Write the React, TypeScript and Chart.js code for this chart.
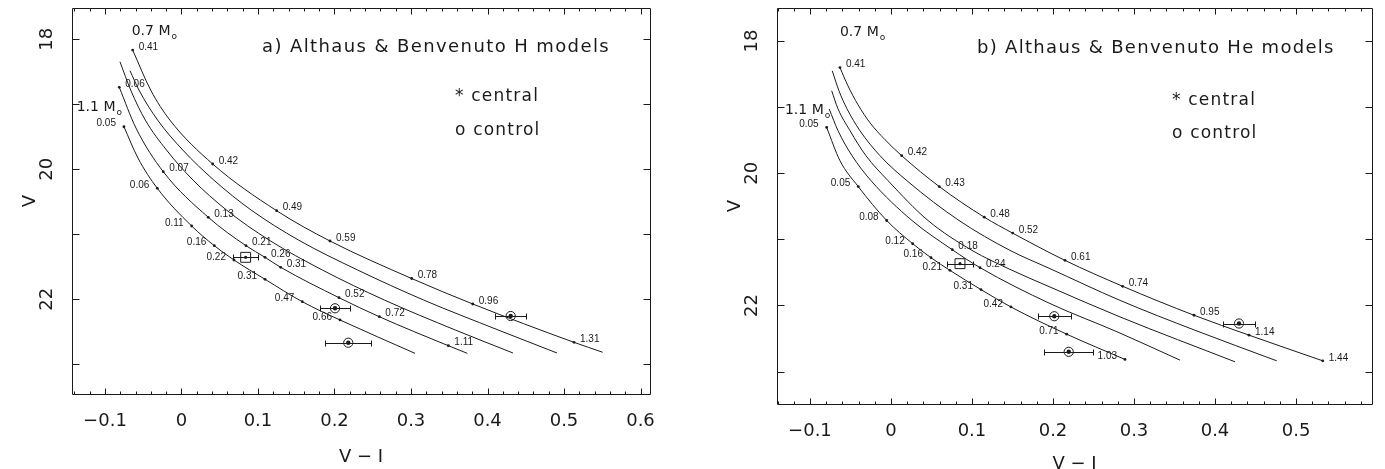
import React, { useEffect, useRef } from 'react';
import { Chart, registerables } from 'chart.js';

Chart.register(...registerables);

const SANS = "'DejaVu Sans', 'Liberation Sans', sans-serif";
const SMALL = "'Liberation Sans', Arial, sans-serif";
const INK = '#1a1a1a';

// ---------- Panel a) Althaus & Benvenuto H models : tracks 0.7 ... 1.1 Msun ----------
const hM07X = [-0.0638, -0.0403, -0.0152, 0.0408, 0.1244, 0.1941, 0.3009, 0.3807, 0.5131, 0.5506];
const hM07Y = [18.165, 18.78, 19.242, 19.918, 20.637, 21.103, 21.68, 22.072, 22.662, 22.815];
const hM08X = [-0.0673, -0.0556, -0.0312, 0.0017, 0.0422, 0.091, 0.1529, 0.2302, 0.3165, 0.4139, 0.4908];
const hM08Y = [18.483, 18.78, 19.242, 19.703, 20.165, 20.626, 21.088, 21.549, 22.011, 22.472, 22.826];
const hM09X = [-0.0804, -0.0664, -0.0473, -0.0196, 0.015, 0.0588, 0.1144, 0.1841, 0.2652, 0.3578, 0.4333];
const hM09Y = [18.345, 18.78, 19.242, 19.703, 20.165, 20.626, 21.088, 21.549, 22.011, 22.472, 22.826];
const hM10X = [-0.0813, -0.0595, -0.0238, 0.035, 0.0843, 0.1092, 0.1297, 0.2059, 0.2586, 0.3488, 0.3736];
const hM10Y = [18.738, 19.365, 20.037, 20.738, 21.175, 21.354, 21.508, 21.975, 22.268, 22.714, 22.831];
const hM11X = [-0.0752, -0.0569, -0.0316, 0.0133, 0.0429, 0.0686, 0.1092, 0.1579, 0.2072, 0.3052];
const hM11Y = [19.345, 19.826, 20.292, 20.872, 21.175, 21.395, 21.692, 22.037, 22.318, 22.831];

const hDotM07X = [-0.0638, 0.0408, 0.1244, 0.1941, 0.3009, 0.3807, 0.5131];
const hDotM07Y = [18.165, 19.918, 20.637, 21.103, 21.68, 22.072, 22.662];
const hDotM07Lbl = ['0.41', '0.42', '0.49', '0.59', '0.78', '0.96', '1.31'];
const hDotM10X = [-0.0813, -0.0238, 0.035, 0.0843, 0.1092, 0.1297, 0.2059, 0.2586, 0.3488];
const hDotM10Y = [18.738, 20.037, 20.738, 21.175, 21.354, 21.508, 21.975, 22.268, 22.714];
const hDotM10Lbl = ['0.06', '0.07', '0.13', '0.21', '0.26', '0.31', '0.52', '0.72', '1.11'];
const hDotM11X = [-0.0752, -0.0316, 0.0133, 0.0429, 0.0686, 0.1092, 0.1579, 0.2072];
const hDotM11Y = [19.345, 20.292, 20.872, 21.175, 21.395, 21.692, 22.037, 22.318];
const hDotM11Lbl = ['0.05', '0.06', '0.11', '0.16', '0.22', '0.31', '0.47', '0.66'];

const hCentralX = [0.0839];
const hCentralY = [21.354];
const hCentralErr = [0.0163];
const hControlX = [0.2007, 0.218, 0.4303];
const hControlY = [22.138, 22.668, 22.257];
const hControlErr = [0.02, 0.03, 0.02];

// ---------- Panel b) Althaus & Benvenuto He models ----------
const heM07X = [-0.063, -0.0531, -0.0407, -0.0259, -0.0074, 0.0132, 0.0596, 0.1152, 0.1502, 0.2148, 0.286, 0.3741, 0.442, 0.533];
const heM07Y = [18.403, 18.679, 18.965, 19.237, 19.493, 19.735, 20.202, 20.665, 20.906, 21.318, 21.71, 22.148, 22.449, 22.837];
const heM08X = [-0.0725, -0.0642, -0.0543, -0.0383, -0.0136, 0.021, 0.084, 0.1469, 0.1963, 0.2827, 0.3753, 0.4762];
const heM08Y = [18.452, 18.754, 19.026, 19.357, 19.735, 20.127, 20.715, 21.167, 21.443, 21.923, 22.375, 22.837];
const heM09X = [-0.0732, -0.0654, -0.0506, -0.0309, -0.0037, 0.0457, 0.1, 0.1469, 0.1963, 0.2827, 0.4247];
const heM09Y = [18.754, 19.026, 19.357, 19.735, 20.112, 20.715, 21.167, 21.454, 21.721, 22.173, 22.852];
const heM10X = [-0.0762, -0.0654, -0.0481, -0.0247, 0.0259, 0.0757, 0.1099, 0.1963, 0.2802, 0.3568];
const heM10Y = [19.03, 19.357, 19.735, 20.112, 20.715, 21.157, 21.428, 21.971, 22.404, 22.827];
const heM11X = [-0.0794, -0.063, -0.0404, -0.0053, 0.0268, 0.0494, 0.0728, 0.1111, 0.1481, 0.2169, 0.2889];
const heM11Y = [19.308, 19.81, 20.202, 20.715, 21.066, 21.278, 21.469, 21.76, 22.023, 22.434, 22.816];

const heDotM07X = [-0.063, 0.0132, 0.0596, 0.1152, 0.1502, 0.2148, 0.286, 0.3741, 0.442, 0.533];
const heDotM07Y = [18.403, 19.735, 20.202, 20.665, 20.906, 21.318, 21.71, 22.148, 22.449, 22.837];
const heDotM07Lbl = ['0.41', '0.42', '0.43', '0.48', '0.52', '0.61', '0.74', '0.95', '1.14', '1.44'];
const heDotM10X = [0.0757, 0.1099];
const heDotM10Y = [21.157, 21.428];
const heDotM10Lbl = ['0.18', '0.24'];
const heDotM11X = [-0.0794, -0.0404, -0.0053, 0.0268, 0.0494, 0.0728, 0.1111, 0.1481, 0.2169, 0.2889];
const heDotM11Y = [19.308, 20.202, 20.715, 21.067, 21.278, 21.469, 21.76, 22.022, 22.434, 22.816];
const heDotM11Lbl = ['0.05', '0.05', '0.08', '0.12', '0.16', '0.21', '0.31', '0.42', '0.71', '1.03'];

const heCentralX = [0.0852];
const heCentralY = [21.368];
const heCentralErr = [0.0164];
const heControlX = [0.2016, 0.2194, 0.4296];
const heControlY = [22.163, 22.701, 22.273];
const heControlErr = [0.0204, 0.03, 0.0198];

const xAxisTitle = 'V \u2212 I';
const yAxisTitle = 'V';

const pts = (xs: number[], ys: number[]) => xs.map((x, i) => ({ x, y: ys[i] }));

const xTickFmt = (v: any) => {
  const n = Math.round(Number(v) * 10) / 10;
  if (Math.abs(n) < 1e-9) return '0';
  return n < 0 ? '\u2212' + Math.abs(n).toFixed(1) : n.toFixed(1);
};

const decorPlugin = {
  id: 'decor',
  afterDatasetsDraw(chart: any, _args: any, opts: any) {
    const { ctx, chartArea: ca } = chart;
    const xs = chart.scales.x;
    const ys = chart.scales.y;
    ctx.save();
    ctx.strokeStyle = INK;
    ctx.lineWidth = 1;
    const L = Math.round(ca.left) + 0.5;
    const R = Math.round(ca.right) + 0.5;
    const T = Math.round(ca.top) + 0.5;
    const B = Math.round(ca.bottom) + 0.5;
    ctx.beginPath();
    ctx.rect(L, T, R - L, B - T);
    for (let k = Math.ceil(xs.min / 0.02 - 1e-6); k * 0.02 <= xs.max + 1e-9; k++) {
      const px = Math.round(xs.getPixelForValue(k * 0.02)) + 0.5;
      const len = k % 5 === 0 ? 6 : 3;
      ctx.moveTo(px, B); ctx.lineTo(px, B - len);
      ctx.moveTo(px, T); ctx.lineTo(px, T + len);
    }
    for (let v = Math.ceil(ys.min); v <= ys.max; v++) {
      const py = Math.round(ys.getPixelForValue(v)) + 0.5;
      ctx.moveTo(L, py); ctx.lineTo(L + 7, py);
      ctx.moveTo(R, py); ctx.lineTo(R - 7, py);
    }
    ctx.stroke();

    chart.data.datasets.forEach((ds: any, di: number) => {
      const meta = chart.getDatasetMeta(di);
      if (ds.errX) {
        ctx.beginPath();
        meta.data.forEach((pt: any, i: number) => {
          const raw = ds.data[i];
          const x0 = Math.round(xs.getPixelForValue(raw.x - ds.errX[i])) + 0.5;
          const x1 = Math.round(xs.getPixelForValue(raw.x + ds.errX[i])) + 0.5;
          const py = Math.round(pt.y) + 0.5;
          ctx.moveTo(x0, py); ctx.lineTo(x1, py);
          ctx.moveTo(x0, py - 3); ctx.lineTo(x0, py + 3);
          ctx.moveTo(x1, py - 3); ctx.lineTo(x1, py + 3);
        });
        ctx.stroke();
      }
      if (ds.pointLabels) {
        ctx.fillStyle = INK;
        ctx.font = `10px ${SMALL}`;
        ctx.textBaseline = 'middle';
        const left = ds.labelSide === 'left';
        ctx.textAlign = left ? 'right' : 'left';
        meta.data.forEach((pt: any, i: number) => {
          ctx.fillText(ds.pointLabels[i], pt.x + (left ? -8 : 6), pt.y - 3);
        });
      }
    });

    (opts.texts || []).forEach((t: any) => {
      ctx.font = `${t.size}px ${SANS}`;
      ctx.fillStyle = INK;
      ctx.textAlign = 'left';
      ctx.textBaseline = 'middle';
      (ctx as any).letterSpacing = (t.spacing || 0) + 'px';
      const px = xs.getPixelForValue(t.x);
      const py = ys.getPixelForValue(t.y);
      ctx.fillText(t.text, px, py);
      if (t.sub) {
        const w = ctx.measureText(t.text).width;
        ctx.font = `${Math.round(t.size * 0.65)}px ${SANS}`;
        ctx.fillText(t.sub, px + w + 1, py + t.size * 0.38);
      }
      (ctx as any).letterSpacing = '0px';
    });
    ctx.restore();
  },
};

function buildConfig(p: any) {
  const curve = (xs: number[], ys: number[]) => ({
    type: 'line',
    data: pts(xs, ys),
    borderColor: INK,
    borderWidth: 1,
    pointRadius: 0,
    fill: false,
    cubicInterpolationMode: 'monotone',
  });
  const dots = (xs: number[], ys: number[], lbl: string[], side: string) => ({
    type: 'scatter',
    data: pts(xs, ys),
    pointRadius: 1.4,
    pointBackgroundColor: INK,
    pointBorderWidth: 0,
    pointLabels: lbl,
    labelSide: side,
  });
  const datasets: any[] = [
    ...p.curves.map((c: any) => curve(c[0], c[1])),
    ...p.dots.map((d: any) => dots(d[0], d[1], d[2], d[3])),
    {
      type: 'scatter', data: pts(p.central[0], p.central[1]), errX: p.central[2],
      pointStyle: 'rect', pointRadius: 7, pointBorderColor: INK, pointBorderWidth: 1,
      pointBackgroundColor: 'rgba(0,0,0,0)',
    },
    {
      type: 'scatter', data: pts(p.central[0], p.central[1]),
      pointRadius: 1.6, pointBackgroundColor: INK, pointBorderWidth: 0,
    },
    {
      type: 'scatter', data: pts(p.control[0], p.control[1]), errX: p.control[2],
      pointStyle: 'circle', pointRadius: 4.6, pointBorderColor: INK, pointBorderWidth: 1,
      pointBackgroundColor: 'rgba(0,0,0,0)',
    },
    {
      type: 'scatter', data: pts(p.control[0], p.control[1]),
      pointRadius: 2.2, pointBackgroundColor: INK, pointBorderWidth: 0,
    },
  ];
  return {
    type: 'scatter',
    data: { datasets },
    plugins: [decorPlugin],
    options: {
      responsive: false,
      animation: false,
      devicePixelRatio: 1,
      events: [],
      layout: { padding: { left: 0, right: p.padRight, top: p.padTop, bottom: 0 } },
      plugins: {
        legend: { display: false },
        tooltip: { enabled: false },
        decor: { texts: p.texts },
      },
      scales: {
        x: {
          type: 'linear',
          min: p.xMin,
          max: p.xMax,
          afterFit: (s: any) => {
            s.height = p.xAxisH;
            s.paddingLeft = 0;
            s.paddingRight = 0;
          },
          grid: { display: false, drawTicks: false },
          border: { display: false },
          ticks: {
            stepSize: 0.1, includeBounds: false, autoSkip: false, maxRotation: 0, minRotation: 0,
            padding: 17, color: INK, font: { family: SANS, size: 18 }, callback: xTickFmt,
          },
          title: {
            display: true, text: xAxisTitle, color: INK,
            font: { family: SANS, size: 18, lineHeight: 1.2 },
            padding: { top: 0, bottom: p.xTitlePad },
          },
        },
        y: {
          type: 'linear',
          reverse: true,
          min: p.yMin,
          max: p.yMax,
          afterFit: (s: any) => {
            s.width = p.yAxisW;
            s.paddingTop = 0;
            s.paddingBottom = 0;
          },
          grid: { display: false, drawTicks: false },
          border: { display: false },
          ticks: {
            stepSize: 2, includeBounds: false, autoSkip: false, minRotation: 90, maxRotation: 90,
            crossAlign: 'center', padding: 13, color: INK, font: { family: SANS, size: 18 },
            callback: (v: any) => String(v),
          },
          title: {
            display: true, text: yAxisTitle, color: INK,
            font: { family: SANS, size: 18, lineHeight: 1.2 },
            padding: { top: p.yTitlePad, bottom: 0 },
          },
        },
      },
    },
  };
}

const panelA = {
  xMin: -0.1431, xMax: 0.6124, yMin: 17.518, yMax: 23.457,
  padRight: 40, padTop: 8, xAxisH: 75, yAxisW: 72, xTitlePad: 1.2, yTitlePad: 20,
  curves: [[hM07X, hM07Y], [hM08X, hM08Y], [hM09X, hM09Y], [hM10X, hM10Y], [hM11X, hM11Y]],
  dots: [
    [hDotM07X, hDotM07Y, hDotM07Lbl, 'right'],
    [hDotM10X, hDotM10Y, hDotM10Lbl, 'right'],
    [hDotM11X, hDotM11Y, hDotM11Lbl, 'left'],
  ],
  central: [hCentralX, hCentralY, hCentralErr],
  control: [hControlX, hControlY, hControlErr],
  texts: [
    { text: '0.7 M', sub: 'o', x: -0.0651, y: 17.872, size: 14 },
    { text: '1.1 M', sub: 'o', x: -0.137, y: 19.04, size: 14 },
    { text: 'a) Althaus & Benvenuto H models', x: 0.1052, y: 18.118, size: 18, spacing: 1.4 },
    { text: '* central', x: 0.3575, y: 18.888, size: 17, spacing: 1.2 },
    { text: 'o control', x: 0.3575, y: 19.411, size: 17, spacing: 1.2 },
  ],
};

const panelB = {
  xMin: -0.1407, xMax: 0.5938, yMin: 17.502, yMax: 23.49,
  padRight: 13, padTop: 7, xAxisH: 65, yAxisW: 87, xTitlePad: -5.8, yTitlePad: 35,
  curves: [[heM07X, heM07Y], [heM08X, heM08Y], [heM09X, heM09Y], [heM10X, heM10Y], [heM11X, heM11Y]],
  dots: [
    [heDotM07X, heDotM07Y, heDotM07Lbl, 'right'],
    [heDotM10X, heDotM10Y, heDotM10Lbl, 'right'],
    [heDotM11X, heDotM11Y, heDotM11Lbl, 'left'],
  ],
  central: [heCentralX, heCentralY, heCentralErr],
  control: [heControlX, heControlY, heControlErr],
  texts: [
    { text: '0.7 M', sub: 'o', x: -0.063, y: 17.864, size: 14 },
    { text: '1.1 M', sub: 'o', x: -0.1309, y: 19.056, size: 14 },
    { text: 'b) Althaus & Benvenuto He models', x: 0.1062, y: 18.106, size: 18, spacing: 1.3 },
    { text: '* central', x: 0.3469, y: 18.905, size: 17, spacing: 1.2 },
    { text: 'o control', x: 0.3469, y: 19.403, size: 17, spacing: 1.2 },
  ],
};

function Panel({ spec, left, width }: any) {
  const ref = useRef<HTMLCanvasElement>(null);
  useEffect(() => {
    const chart = new Chart(ref.current as HTMLCanvasElement, buildConfig(spec) as any);
    return () => chart.destroy();
  }, [spec]);
  return (
    <canvas
      ref={ref}
      width={width}
      height={469}
      style={{ position: 'absolute', left, top: 0, width, height: 469 }}
    />
  );
}

export default function App() {
  return (
    <div style={{ position: 'fixed', left: 0, top: 0, width: 1385, height: 469, background: '#fff', overflow: 'hidden' }}>
      <Panel spec={panelA} left={0} width={690} />
      <Panel spec={panelB} left={690} width={695} />
    </div>
  );
}
